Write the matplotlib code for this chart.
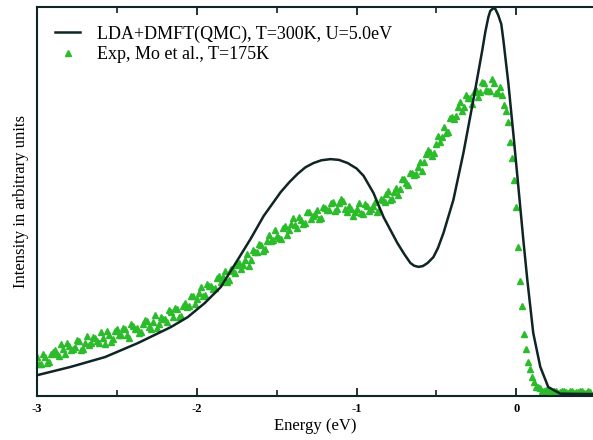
import matplotlib
matplotlib.use("Agg")
import matplotlib.pyplot as plt
import numpy as np

plt.rcParams['font.family'] = ['Liberation Serif', 'DejaVu Serif']

# LDA+DMFT(QMC) spectrum (energy in eV, intensity in arbitrary units)
E_calc = [-2.994, -2.788, -2.575, -2.369, -2.163, -2.056, -1.950, -1.850, -1.744,
          -1.663, -1.581, -1.475, -1.420, -1.369, -1.320, -1.269, -1.220, -1.163,
          -1.110, -1.056, -1.000, -0.956, -0.894, -0.831, -0.744, -0.700, -0.663,
          -0.640, -0.613, -0.585, -0.555, -0.519, -0.490, -0.456, -0.394, -0.331,
          -0.269, -0.213, -0.194, -0.175, -0.163, -0.144, -0.131, -0.113, -0.094,
          -0.081, -0.050, -0.019, 0.013, 0.044, 0.069, 0.106, 0.150, 0.200, 0.275,
          0.48]
I_calc = [0.054, 0.075, 0.100, 0.136, 0.177, 0.203, 0.239, 0.280, 0.350,
          0.404, 0.463, 0.524, 0.550, 0.571, 0.588, 0.599, 0.606, 0.609,
          0.607, 0.599, 0.585, 0.566, 0.522, 0.460, 0.393, 0.364, 0.342,
          0.335, 0.332, 0.334, 0.342, 0.357, 0.381, 0.419, 0.504, 0.625,
          0.761, 0.889, 0.936, 0.974, 0.990, 0.997, 0.995, 0.979, 0.956,
          0.915, 0.805, 0.676, 0.537, 0.401, 0.298, 0.162, 0.075, 0.023, 0.006,
          0.005]

# Experiment, Mo et al. - two interleaved sweeps, 0.025 eV steps
E0_a, E0_b, dE = -3.0, -2.9875, 0.025
I_exp_a = [0.099, 0.083, 0.101, 0.087, 0.114, 0.108, 0.133, 0.109, 0.129, 0.120,
           0.143, 0.119, 0.137, 0.130, 0.151, 0.142, 0.165, 0.134, 0.158, 0.146,
           0.172, 0.158, 0.172, 0.150, 0.180, 0.175, 0.165, 0.196, 0.177, 0.190,
           0.176, 0.204, 0.197, 0.220, 0.202, 0.223, 0.206, 0.238, 0.231, 0.256,
           0.250, 0.279, 0.260, 0.282, 0.274, 0.303, 0.294, 0.321, 0.298, 0.322,
           0.336, 0.327, 0.349, 0.335, 0.376, 0.370, 0.388, 0.378, 0.413, 0.400,
           0.412, 0.404, 0.436, 0.426, 0.457, 0.432, 0.452, 0.445, 0.474, 0.463,
           0.477, 0.457, 0.484, 0.477, 0.499, 0.481, 0.507, 0.481, 0.488, 0.464,
           0.482, 0.470, 0.493, 0.475, 0.488, 0.474, 0.506, 0.500, 0.526, 0.507,
           0.534, 0.531, 0.559, 0.542, 0.573, 0.570, 0.602, 0.602, 0.633, 0.617,
           0.648, 0.654, 0.692, 0.679, 0.718, 0.721, 0.755, 0.742, 0.767, 0.752,
           0.786, 0.781, 0.804, 0.784, 0.814, 0.780, 0.794, 0.749, 0.705, 0.612,
           0.486, 0.295, 0.159, 0.087, 0.049, 0.023, 0.021, 0.012, 0.015, 0.009,
           0.014, 0.009, 0.012, 0.007, 0.013, 0.010, 0.014, 0.008, 0.012]
I_exp_b = [0.083, 0.108, 0.084, 0.109, 0.119, 0.102, 0.121, 0.137, 0.117, 0.126,
           0.142, 0.120, 0.155, 0.135, 0.150, 0.135, 0.149, 0.166, 0.138, 0.167,
           0.157, 0.176, 0.158, 0.186, 0.172, 0.163, 0.185, 0.193, 0.171, 0.208,
           0.186, 0.198, 0.190, 0.216, 0.227, 0.202, 0.231, 0.230, 0.256, 0.237,
           0.264, 0.257, 0.289, 0.282, 0.277, 0.308, 0.307, 0.294, 0.326, 0.316,
           0.343, 0.336, 0.366, 0.349, 0.369, 0.391, 0.372, 0.399, 0.399, 0.426,
           0.407, 0.432, 0.414, 0.441, 0.439, 0.460, 0.441, 0.473, 0.456, 0.469,
           0.454, 0.485, 0.479, 0.497, 0.475, 0.497, 0.501, 0.472, 0.482, 0.473,
           0.497, 0.467, 0.488, 0.481, 0.500, 0.478, 0.505, 0.520, 0.505, 0.524,
           0.518, 0.558, 0.548, 0.573, 0.567, 0.588, 0.579, 0.622, 0.628, 0.626,
           0.668, 0.667, 0.677, 0.715, 0.712, 0.744, 0.733, 0.773, 0.765, 0.781,
           0.769, 0.807, 0.787, 0.784, 0.805, 0.778, 0.775, 0.734, 0.653, 0.555,
           0.384, 0.231, 0.120, 0.070, 0.035, 0.024, 0.014, 0.016, 0.011, 0.013,
           0.008, 0.013, 0.009, 0.012, 0.007, 0.011, 0.013, 0.008, 0.011]

E_exp_a = E0_a + dE * np.arange(len(I_exp_a))
E_exp_b = E0_b + dE * np.arange(len(I_exp_b))
E_exp = np.concatenate([E_exp_a, E_exp_b])
I_exp = np.concatenate([I_exp_a, I_exp_b])

xticks = [-3, -2, -1, 0]
xticklabels = ['-3', '-2', '-1', '0']

fig = plt.figure(figsize=(5.93, 4.40), dpi=100)
ax = fig.add_axes([0.0624, 0.10, 0.9376, 0.884])

dark = '#0f2424'
green = '#2bbb2b'

ax.plot(E_calc, I_calc, color=dark, lw=1.8, zorder=3,
        solid_joinstyle='round', label='LDA+DMFT(QMC), T=300K, U=5.0eV')
ax.plot(E_exp, I_exp, ls='none', marker='^', ms=4.6, color=green,
        mec=green, zorder=2, label='Exp, Mo et al., T=175K')

ax.set_xlim(-3, 0.48)
ax.set_ylim(0, 1.0)

ax.set_xticks(xticks)
ax.set_xticklabels(xticklabels, fontsize=9, fontweight='bold')
ax.set_xticks([-2.5, -1.5, -0.5], minor=True)
ax.set_yticks([])
ax.tick_params(axis='x', which='major', direction='in', length=6, width=1.3,
               top=True, color=dark, pad=5)
ax.tick_params(axis='x', which='minor', direction='in', length=4, width=1.2,
               top=True, color=dark)

for s in ['left', 'bottom', 'top']:
    ax.spines[s].set_color(dark)
    ax.spines[s].set_linewidth(1.5)
ax.spines['right'].set_visible(False)

ax.set_xlabel('Energy (eV)', fontsize=12, labelpad=2)
ax.set_ylabel('Intensity in arbitrary units', fontsize=12, labelpad=6)

ax.legend(loc='upper left', bbox_to_anchor=(0.01, 0.985), frameon=False,
          fontsize=13, handlelength=1.4, handletextpad=0.9,
          labelspacing=0.2, borderaxespad=0.3)

fig.savefig('out.png', dpi=100)
